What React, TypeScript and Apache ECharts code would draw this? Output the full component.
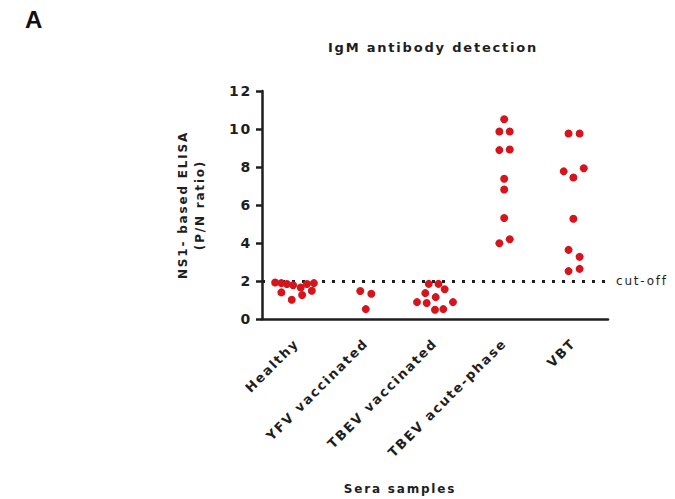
import React, { useEffect, useRef } from "react";
import * as echarts from "echarts";

const categories = ["Healthy", "YFV vaccinated", "TBEV vaccinated", "TBEV acute-phase", "VBT"];
const yTicks = [0, 2, 4, 6, 8, 10, 12];
const cutOff = 2;

// values (P/N ratio) and horizontal scatter offsets (in category widths)
const healthyVals = [1.92, 1.89, 1.84, 1.78, 1.66, 1.84, 1.89, 1.4, 1.49, 1.26, 1.01];
const healthyJit = [-0.31, -0.22, -0.14, -0.05, 0.06, 0.15, 0.25, -0.22, 0.22, 0.08, -0.07];
const yfvVals = [1.47, 0.52, 1.33];
const yfvJit = [-0.08, 0, 0.08];
const tbevVacVals = [1.85, 1.85, 1.36, 1.57, 1.15, 0.89, 0.84, 0.89, 0.49, 0.52];
const tbevVacJit = [-0.09, 0.05, -0.14, 0.14, 0.01, -0.26, -0.12, 0.26, 0, 0.12];
const tbevAcuteVals = [10.51, 9.87, 9.87, 8.89, 8.92, 7.38, 6.82, 5.32, 3.99, 4.2];
const tbevAcuteJit = [0, -0.07, 0.08, -0.07, 0.08, 0, 0, 0, -0.07, 0.08];
const vbtVals = [9.76, 9.76, 7.77, 7.45, 7.93, 5.28, 3.64, 3.27, 2.52, 2.64];
const vbtJit = [-0.07, 0.09, -0.14, 0, 0.15, 0, -0.07, 0.09, -0.07, 0.09];

const groups = [
  { vals: healthyVals, jit: healthyJit },
  { vals: yfvVals, jit: yfvJit },
  { vals: tbevVacVals, jit: tbevVacJit },
  { vals: tbevAcuteVals, jit: tbevAcuteJit },
  { vals: vbtVals, jit: vbtJit },
];

const FONT = "'DejaVu Sans', sans-serif";
const DOT = "#d6141c";
const INK = "#1e1e1e";

export default function App() {
  const ref = useRef<HTMLDivElement>(null);
  useEffect(() => {
    if (!ref.current) return;
    const chart = echarts.init(ref.current, null, { renderer: "svg" });
    const series: any[] = groups.map((g, gi) => ({
      type: "scatter",
      xAxisIndex: 1,
      yAxisIndex: 0,
      symbol: "circle",
      symbolSize: 8,
      itemStyle: { color: DOT, opacity: 1 },
      data: g.vals.map((v, i) => [gi + g.jit[i], v]),
      z: 3,
    }));
    series[0].markLine = {
      silent: true,
      symbol: ["none", "none"],
      lineStyle: { color: INK, width: 3, type: [3, 7], cap: "butt", opacity: 1 },
      label: {
        show: true,
        position: "end",
        formatter: "cut-off",
        color: INK,
        fontFamily: FONT,
        fontSize: 12,
        distance: 8,
      },
      emphasis: { disabled: true },
      data: [{ yAxis: cutOff }],
      z: 2,
    };
    chart.setOption({
      animation: false,
      backgroundColor: "#ffffff",
      grid: { left: 262, right: 67, top: 91, bottom: 180 },
      xAxis: [
        {
          type: "category",
          data: categories,
          boundaryGap: true,
          axisLine: { lineStyle: { color: INK, width: 2.5 } },
          axisTick: { alignWithLabel: true, length: 5, lineStyle: { color: INK, width: 2.5 } },
          axisLabel: {
            rotate: 45,
            margin: 22,
            color: INK,
            fontFamily: FONT,
            fontWeight: "bold",
            fontSize: 13,
            interval: 0,
          },
          splitLine: { show: false },
        },
        {
          type: "value",
          min: -0.5,
          max: 4.5,
          show: false,
          splitLine: { show: false },
        },
      ],
      yAxis: {
        type: "value",
        min: yTicks[0],
        max: yTicks[yTicks.length - 1],
        interval: 2,
        name: "NS1- based ELISA\n(P/N ratio)",
        nameLocation: "middle",
        nameGap: 54,
        nameTextStyle: {
          color: INK,
          fontFamily: FONT,
          fontWeight: "bold",
          fontSize: 12,
          lineHeight: 17,
        },
        axisLine: { show: true, onZero: false, lineStyle: { color: INK, width: 2.5 } },
        axisTick: { show: true, length: 6, lineStyle: { color: INK, width: 2.5 } },
        axisLabel: {
          margin: 10,
          color: INK,
          fontFamily: FONT,
          fontWeight: "bold",
          fontSize: 14,
        },
        splitLine: { show: false },
      },
      graphic: [
        {
          type: "text",
          x: 433,
          y: 47,
          style: {
            text: "IgM antibody detection",
            fill: INK,
            font: `bold 13px ${FONT}`,
            textAlign: "center",
            textVerticalAlign: "middle",
            align: "center",
            verticalAlign: "middle",
          },
        },
        {
          type: "text",
          x: 400,
          y: 489,
          style: {
            text: "Sera samples",
            fill: INK,
            font: `bold 12px ${FONT}`,
            textAlign: "center",
            textVerticalAlign: "middle",
            align: "center",
            verticalAlign: "middle",
          },
        },
        {
          type: "text",
          x: 25,
          y: 19,
          style: {
            text: "A",
            fill: "#111",
            font: `bold 24px 'Liberation Sans', sans-serif`,
            textVerticalAlign: "middle",
            verticalAlign: "middle",
          },
        },
      ],
      series,
    });
    return () => chart.dispose();
  }, []);
  return (
    <>
      <style>{`.rs-chart text { letter-spacing: 1.8px; }`}</style>
      <div
        ref={ref}
        className="rs-chart"
        style={{ position: "fixed", left: 0, top: 0, width: 675, height: 499, background: "#fff" }}
      />
    </>
  );
}
